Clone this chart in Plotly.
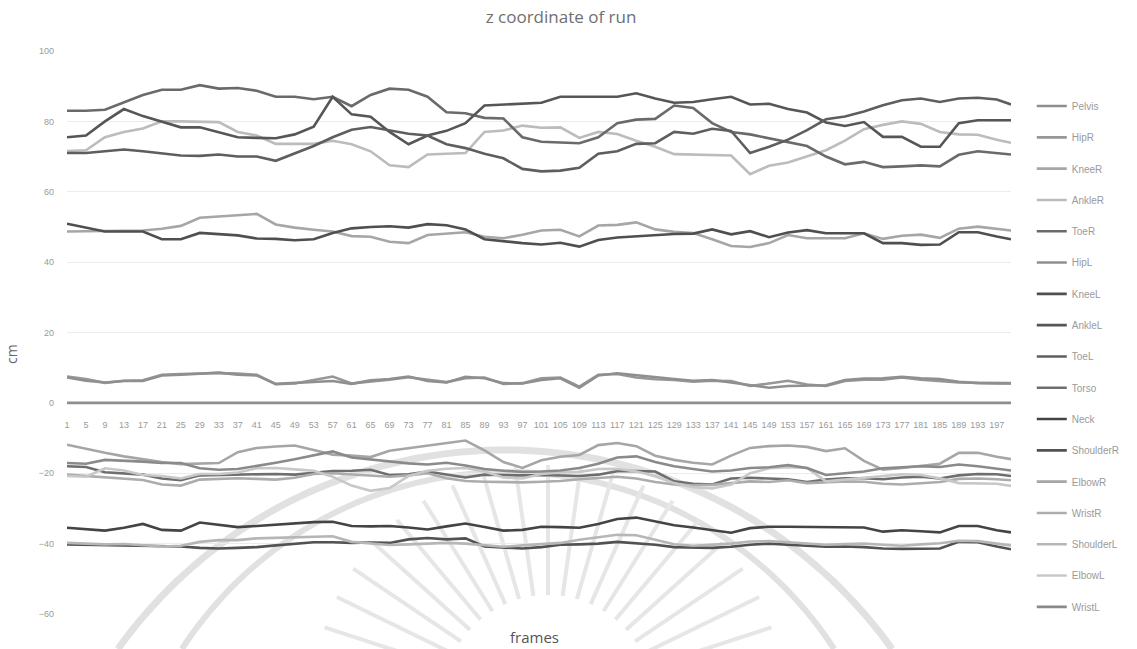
import math
import plotly.graph_objects as go

# frame numbers sampled every 4th frame, plus the last frame
frames = list(range(1, 198, 4)) + [200]
tick_frames = list(range(1, 198, 4))

joints = ["Pelvis", "HipR", "KneeR", "AnkleR", "ToeR", "HipL", "KneeL", "AnkleL",
          "ToeL", "Torso", "Neck", "ShoulderR", "ElbowR", "WristR", "ShoulderL",
          "ElbowL", "WristL"]

pelvis = [0.0, 0.0, 0.0, 0.0, 0.0, 0.0, 0.0, 0.0, 0.0, 0.0, 0.0, 0.0, 0.0, 0.0, 0.0, 0.0, 0.0,
          0.0, 0.0, 0.0, 0.0, 0.0, 0.0, 0.0, 0.0, 0.0, 0.0, 0.0, 0.0, 0.0, 0.0, 0.0, 0.0, 0.0,
          0.0, 0.0, 0.0, 0.0, 0.0, 0.0, 0.0, 0.0, 0.0, 0.0, 0.0, 0.0, 0.0, 0.0, 0.0, 0.0, 0.0]

hip_r = [7.5, 6.8, 5.7, 6.3, 6.4, 8.0, 8.2, 8.4, 8.5, 8.3, 8.0, 5.3, 5.5, 6.5, 7.5, 5.5, 6.0,
         6.6, 7.3, 6.5, 5.9, 7.0, 7.2, 5.4, 5.6, 7.0, 7.2, 4.6, 8.0, 8.2, 7.2, 6.7, 6.5, 6.0,
         6.3, 6.2, 4.8, 5.5, 6.3, 5.2, 4.8, 6.2, 6.6, 6.6, 7.2, 6.6, 6.2, 5.8, 5.7, 5.6, 5.6]

knee_r = [48.7, 48.8, 49.0, 49.0, 49.0, 49.5, 50.3, 52.6, 52.9, 53.4, 53.7, 50.7, 49.8, 49.2,
          48.7, 47.4, 47.2, 45.8, 45.4, 47.7, 48.0, 48.5, 47.2, 46.8, 47.8, 49.0, 49.2, 47.3,
          50.4, 50.6, 51.3, 49.3, 48.6, 48.3, 46.5, 44.6, 44.3, 45.4, 47.7, 46.8, 46.8, 46.8,
          48.2, 46.6, 47.5, 47.8, 46.9, 49.5, 50.1, 49.4, 49.0]

ankle_r = [71.6, 71.8, 75.5, 77.0, 78.0, 80.0, 80.0, 80.0, 79.8, 77.0, 76.0, 73.6, 73.6, 73.6,
           74.5, 73.5, 71.5, 67.5, 67.0, 70.6, 70.8, 71.0, 77.0, 77.4, 78.8, 78.2, 78.3, 75.3,
           77.0, 76.4, 74.5, 72.8, 70.7, 70.6, 70.5, 70.3, 65.0, 67.4, 68.3, 70.0, 71.8, 74.5,
           77.8, 79.0, 80.0, 79.3, 77.0, 76.3, 76.2, 74.8, 73.9]

toe_r = [83.0, 83.0, 83.3, 85.5, 87.5, 89.0, 89.0, 90.3, 89.3, 89.5, 88.7, 87.0, 87.0, 86.3,
         87.0, 84.3, 87.5, 89.3, 89.0, 87.0, 82.6, 82.3, 81.0, 80.8, 75.5, 74.2, 74.0, 73.8,
         75.5, 79.5, 80.5, 80.7, 84.5, 83.8, 79.5, 77.0, 76.3, 75.2, 74.3, 73.0, 70.0, 67.8,
         68.5, 67.0, 67.2, 67.5, 67.2, 70.5, 71.5, 71.0, 70.6]

hip_l = [7.2, 6.3, 5.8, 6.2, 6.2, 7.8, 8.0, 8.3, 8.6, 8.0, 7.8, 5.4, 5.6, 5.8, 6.2, 5.4, 6.4,
         6.8, 7.5, 6.2, 5.8, 7.4, 7.0, 5.6, 5.5, 6.5, 7.0, 4.3, 7.8, 8.4, 7.8, 7.4, 6.8, 6.3,
         6.5, 5.8, 5.0, 4.3, 4.8, 5.0, 5.0, 6.5, 6.9, 7.0, 7.4, 7.0, 6.8, 6.0, 5.6, 5.5, 5.5]

knee_l = [50.9, 49.9, 48.7, 48.7, 48.7, 46.5, 46.5, 48.3, 48.0, 47.6, 46.7, 46.6, 46.2, 46.5,
          48.3, 49.6, 50.0, 50.2, 49.8, 50.8, 50.5, 49.3, 46.5, 45.9, 45.4, 45.0, 45.5, 44.4,
          46.3, 47.0, 47.4, 47.8, 48.0, 48.1, 49.3, 47.9, 48.8, 47.1, 48.4, 49.1, 48.2, 48.2,
          48.2, 45.4, 45.4, 44.9, 45.0, 48.5, 48.5, 47.3, 46.5]

ankle_l = [75.5, 76.0, 80.0, 83.5, 81.5, 80.0, 78.3, 78.3, 76.8, 75.5, 75.3, 75.2, 76.3, 78.5,
           87.0, 82.0, 81.3, 77.0, 73.5, 76.0, 77.3, 79.5, 84.5, 84.8, 85.0, 85.3, 87.0, 87.0,
           87.0, 87.0, 88.0, 86.5, 85.3, 85.5, 86.3, 87.0, 84.8, 85.0, 83.5, 82.5, 79.7, 78.7,
           79.8, 75.6, 75.6, 72.8, 72.8, 79.5, 80.3, 80.4, 80.3]

toe_l = [71.0, 71.0, 71.5, 72.0, 71.5, 70.8, 70.3, 70.2, 70.6, 70.0, 70.0, 68.8, 70.8, 73.0,
         75.5, 77.6, 78.4, 77.5, 76.5, 76.0, 73.5, 72.4, 70.8, 69.5, 66.5, 65.8, 66.0, 66.8,
         70.8, 71.5, 73.6, 73.8, 77.0, 76.5, 77.9, 77.3, 71.0, 72.8, 74.8, 77.5, 80.6, 81.4,
         82.8, 84.6, 86.0, 86.5, 85.5, 86.5, 86.7, 86.2, 84.8]

torso = [-18.0, -18.2, -19.7, -20.0, -20.4, -21.5, -22.0, -20.6, -20.5, -20.3, -20.3, -20.2,
         -20.4, -20.0, -19.4, -19.3, -19.0, -20.5, -20.3, -19.5, -20.3, -21.2, -20.4, -20.6,
         -20.6, -20.5, -20.7, -20.8, -20.4, -19.4, -19.4, -19.5, -22.3, -23.0, -23.2, -21.5,
         -21.3, -21.5, -21.7, -22.5, -21.8, -21.4, -21.4, -21.7, -21.2, -21.0, -21.5, -20.6,
         -20.2, -20.3, -20.8]

neck = [-35.5, -35.8, -36.3, -35.5, -34.4, -36.1, -36.3, -34.0, -34.6, -35.3, -35.0, -34.6,
        -34.4, -33.9, -33.8, -35.0, -35.1, -35.0, -35.4, -36.0, -35.1, -34.3, -35.3, -36.3,
        -36.1, -35.2, -35.3, -35.5, -34.4, -33.0, -32.6, -33.8, -34.8, -35.4, -36.2, -36.9,
        -35.6, -35.2, -35.2, -35.2, -35.2, -35.2, -35.4, -36.6, -36.2, -36.5, -36.8, -35.0,
        -35.0, -36.2, -36.8]

shoulder_r = [-40.2, -40.3, -40.4, -40.3, -40.5, -40.6, -40.8, -41.2, -41.4, -41.2, -41.0,
              -40.5, -40.0, -39.6, -39.6, -39.8, -39.7, -39.8, -38.8, -38.4, -38.8, -38.5,
              -40.8, -41.2, -41.4, -41.0, -40.3, -40.2, -40.0, -39.5, -39.8, -40.3, -41.0,
              -41.2, -41.2, -40.9, -40.3, -40.0, -40.4, -40.6, -40.9, -40.8, -41.0, -41.4,
              -41.5, -41.5, -41.4, -39.5, -39.6, -40.8, -41.6]

elbow_r = [-11.9, -13.1, -14.2, -15.2, -16.1, -16.8, -17.4, -17.3, -17.1, -14.0, -12.8, -12.4,
           -12.1, -13.4, -14.7, -15.0, -15.4, -13.6, -12.9, -12.3, -11.5, -10.7, -13.5, -16.8,
           -18.5, -16.3, -15.3, -14.8, -12.0, -11.4, -12.3, -15.0, -16.2, -17.0, -17.5, -15.0,
           -12.8, -12.3, -12.1, -12.5, -13.7, -12.9, -16.5, -19.0, -18.5, -18.0, -17.3, -14.2,
           -14.2, -15.3, -16.0]

wrist_r = [-20.4, -20.8, -21.2, -21.5, -21.9, -23.2, -23.5, -21.8, -21.5, -21.4, -21.6, -21.8,
           -21.3, -20.2, -20.0, -20.4, -20.8, -21.0, -20.6, -20.0, -21.4, -22.2, -22.4, -22.5,
           -22.6, -22.4, -22.2, -21.7, -21.3, -21.0, -21.5, -22.5, -23.2, -23.4, -23.3, -22.7,
           -22.3, -22.5, -22.0, -22.8, -22.5, -22.3, -22.4, -23.0, -23.2, -22.8, -22.5, -21.6,
           -21.5, -21.7, -22.0]

shoulder_l = [-39.8, -40.0, -40.2, -40.1, -40.4, -40.8, -40.6, -39.5, -39.0, -39.0, -38.5,
              -38.3, -38.2, -38.0, -37.9, -39.5, -40.0, -40.4, -40.2, -40.0, -39.8, -40.0,
              -40.5, -40.9, -40.5, -40.2, -39.8, -38.9, -38.2, -37.5, -37.6, -38.8, -40.2,
              -40.6, -40.4, -40.0, -39.4, -39.3, -39.6, -40.0, -40.3, -40.1, -40.0, -40.3,
              -40.6, -40.2, -39.9, -39.2, -39.3, -40.0, -40.5]

elbow_l = [-20.8, -21.0, -18.6, -19.2, -20.5, -20.8, -21.5, -20.2, -20.2, -19.8, -18.6, -18.5,
           -18.9, -19.3, -21.0, -23.5, -25.0, -24.2, -20.8, -19.3, -18.7, -18.5, -19.5, -21.2,
           -21.5, -20.2, -19.8, -19.6, -18.8, -18.7, -19.5, -20.8, -22.8, -24.0, -24.3, -23.2,
           -20.0, -18.6, -18.3, -18.5, -22.3, -21.8, -21.2, -20.6, -20.3, -20.5, -21.4, -22.8,
           -22.8, -23.0, -23.6]

wrist_l = [-17.1, -17.3, -16.2, -16.4, -16.7, -17.1, -17.1, -18.6, -19.0, -18.8, -18.0, -17.0,
           -16.0, -15.0, -13.8, -15.5, -16.1, -16.5, -17.2, -17.5, -17.0, -17.8, -18.8, -19.3,
           -19.6, -19.5, -19.2, -18.5, -17.3, -15.5, -15.2, -16.8, -18.0, -18.8, -19.5, -19.2,
           -18.5, -18.3, -17.7, -18.5, -20.5, -20.0, -19.5, -18.6, -18.3, -18.0, -18.2, -17.5,
           -18.0, -18.8, -19.2]

series = [pelvis, hip_r, knee_r, ankle_r, toe_r, hip_l, knee_l, ankle_l, toe_l, torso, neck,
          shoulder_r, elbow_r, wrist_r, shoulder_l, elbow_l, wrist_l]

# grey tones for each joint line
line_colors = ["#8e8e8e", "#979797", "#a6a6a6", "#bcbcbc", "#6a6a6a", "#8f8f8f", "#4f4f4f",
               "#565656", "#5e5e5e", "#6e6e6e", "#444444", "#525252", "#a6a6a6", "#acacac",
               "#b6b6b6", "#c8c8c8", "#8a8a8a"]

W, H = 1137, 649
PLOT_L, PLOT_R, PLOT_T, PLOT_B = 67, 1011, 51, 614


def to_paper(px, py):
    """Pixel position on the page -> paper coordinates of the plot area."""
    return (px - PLOT_L) / (PLOT_R - PLOT_L), (PLOT_B - py) / (PLOT_B - PLOT_T)


def arc_path(cx, cy, r, y_cut):
    """Upper arc of a circle, clipped where it meets the bottom edge y_cut."""
    half = math.acos((y_cut - cy) / r * -1) if abs((y_cut - cy) / r) <= 1 else math.pi / 2
    start = math.pi / 2 + half
    end = math.pi / 2 - half
    pts = []
    n = 80
    for k in range(n + 1):
        a = start + (end - start) * k / n
        px = cx + r * math.cos(a)
        py = cy - r * math.sin(a)
        pts.append(to_paper(px, py))
    return "M " + " L ".join(f"{x:.4f},{y:.4f}" for x, y in pts)


# faint emblem printed behind the lower half of the chart
emblem = []
emblem_color = "#e1e1e1"
emblem.append(dict(type="path", xref="paper", yref="paper", layer="below",
                   path=arc_path(505, 926, 476, H), line=dict(color=emblem_color, width=7)))
emblem.append(dict(type="path", xref="paper", yref="paper", layer="below",
                   path=arc_path(508, 861, 389, H), line=dict(color=emblem_color, width=6)))
sun_x, sun_y = 548, 700
for deg in range(18, 166, 8):
    a = math.radians(deg)
    x0, y0 = to_paper(sun_x + 105 * math.cos(a), sun_y - 105 * math.sin(a))
    x1, y1 = to_paper(sun_x + 235 * math.cos(a), sun_y - 235 * math.sin(a))
    emblem.append(dict(type="line", xref="paper", yref="paper", layer="below",
                       x0=x0, y0=y0, x1=x1, y1=y1,
                       line=dict(color="#e6e6e6", width=4)))

fig = go.Figure()
for name, values, color in zip(joints, series, line_colors):
    fig.add_trace(go.Scatter(
        x=frames, y=values, name=name, legendgroup=name, mode="lines",
        line=dict(color=color, width=2.6),
    ))

tick_font = dict(family="Liberation Sans, Arial, sans-serif", size=9, color="#9a9a9a")

fig.update_layout(
    width=W, height=H,
    margin=dict(l=PLOT_L, r=W - PLOT_R, t=PLOT_T, b=H - PLOT_B),
    paper_bgcolor="white", plot_bgcolor="white",
    title=dict(text="z coordinate of run", x=561 / W, xref="container", xanchor="center",
               y=1 - 17 / H, yref="container", yanchor="middle",
               font=dict(family="Open Sans, sans-serif", size=17, color="#6f6f6f")),
    xaxis=dict(range=[1, 200], tickvals=tick_frames, ticktext=[str(v) for v in tick_frames],
               anchor="free", position=0.375, showgrid=False, zeroline=False, showline=False,
               ticks="", ticklabelstandoff=15, tickfont=tick_font, tickangle=0),
    yaxis=dict(range=[-60, 100], dtick=20, tick0=0, showgrid=True, gridcolor="#ececec",
               gridwidth=1, zeroline=False, showline=False, ticks="", ticklabelstandoff=12,
               tickfont=tick_font),
    legend=dict(x=1.022, xanchor="left", y=0.928, yanchor="top", tracegroupgap=12.3,
                font=dict(family="Liberation Sans, Arial, sans-serif", size=10, color="#9a9a9a"),
                bgcolor="rgba(0,0,0,0)", itemwidth=30),
    showlegend=True,
    shapes=emblem,
)

fx, fy = to_paper(534, 637)
fig.add_annotation(text="frames", xref="paper", yref="paper", x=fx, y=fy,
                   xanchor="center", yanchor="middle", showarrow=False,
                   font=dict(family="Open Sans, sans-serif", size=15, color="#555555"))
cx, cy = to_paper(11, 354)
fig.add_annotation(text="cm", xref="paper", yref="paper", x=cx, y=cy,
                   xanchor="center", yanchor="middle", showarrow=False, textangle=-90,
                   font=dict(family="Open Sans, sans-serif", size=14, color="#666666"))

fig.write_html("out.html")
